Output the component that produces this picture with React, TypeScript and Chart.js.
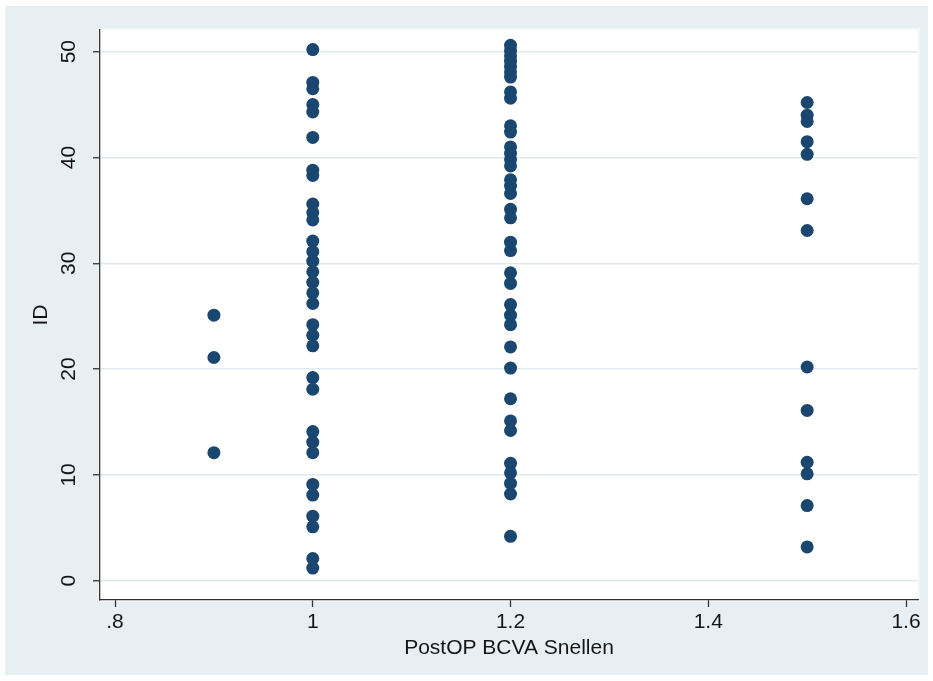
import React, { useEffect, useRef } from "react";
import { Chart, registerables } from "chart.js";

Chart.register(...registerables);

// Data (x = PostOP BCVA Snellen, y = ID)
const snellenValues = [0.9, 1.0, 1.2, 1.5];
const idsAt09 = [25.1, 21.1, 12.1];
const idsAt10 = [
  50.2, 47.1, 46.5, 45.0, 44.3, 41.9, 38.8, 38.3, 35.6, 34.8, 34.1, 32.1, 31.1,
  30.2, 29.2, 28.2, 27.2, 26.2, 24.2, 23.2, 22.2, 19.2, 18.1, 14.1, 13.1, 12.1,
  9.1, 8.1, 6.1, 5.1, 2.1, 1.2,
];
const idsAt12 = [
  50.6, 50.1, 49.6, 49.1, 48.6, 48.1, 47.6, 46.2, 45.6, 43.0, 42.4, 41.0, 40.4,
  39.8, 39.2, 37.9, 37.3, 36.6, 35.1, 34.3, 32.0, 31.2, 29.1, 28.1, 26.1, 25.1,
  24.2, 22.1, 20.1, 17.2, 15.1, 14.2, 11.1, 10.2, 9.2, 8.2, 4.2,
];
const idsAt15 = [45.2, 44.0, 43.4, 41.5, 40.3, 36.1, 33.1, 20.2, 16.1, 11.2, 10.1, 7.1, 3.2];

const xTickValues = [0.8, 1.0, 1.2, 1.4, 1.6];
const xTickLabels = [".8", "1", "1.2", "1.4", "1.6"];
const yTickValues = [0, 10, 20, 30, 40, 50];
const yTickLabels = ["0", "10", "20", "30", "40", "50"];
const xTitle = "PostOP BCVA Snellen";
const yTitle = "ID";

const idGroups = [idsAt09, idsAt10, idsAt12, idsAt15];

const FONT = "'Liberation Sans', Arial, Helvetica, sans-serif";
const TEXT = "#151515";

const bgPlugin = {
  id: "stataBg",
  beforeDraw(chart: any) {
    const { ctx, chartArea: a, width, height } = chart;
    ctx.save();
    ctx.fillStyle = "#ffffff";
    ctx.fillRect(0, 0, width, height);
    ctx.fillStyle = "#e8eff2";
    ctx.fillRect(5, 6, 923, 669);
    ctx.fillStyle = "#f4f7f9";
    ctx.fillRect(a.left - 2, a.top - 2, a.right - a.left + 4, a.bottom - a.top + 4);
    ctx.fillStyle = "#ffffff";
    ctx.fillRect(a.left, a.top, a.right - a.left, a.bottom - a.top);
    ctx.restore();
  },
};

export default function App() {
  const ref = useRef<HTMLCanvasElement | null>(null);

  useEffect(() => {
    document.body.style.margin = "0";
    const points: { x: number; y: number }[] = [];
    idGroups.forEach((ids, i) => {
      ids.forEach((id) => points.push({ x: snellenValues[i], y: id }));
    });

    const chart = new Chart(ref.current as HTMLCanvasElement, {
      type: "scatter",
      data: {
        datasets: [
          {
            data: points,
            backgroundColor: "#1a476f",
            borderColor: "#1a476f",
            borderWidth: 0,
            pointRadius: 6.5,
            pointHoverRadius: 6.5,
          },
        ],
      },
      options: {
        animation: false,
        responsive: true,
        maintainAspectRatio: false,
        layout: { padding: { top: 30, right: 15, left: 0, bottom: 0 } },
        plugins: { legend: { display: false }, tooltip: { enabled: false } },
        scales: {
          x: {
            type: "linear",
            min: 0.7848,
            max: 1.6121,
            afterBuildTicks: (s: any) => {
              s.ticks = xTickValues.map((v) => ({ value: v }));
            },
            afterFit: (s: any) => {
              s.height = 81;
            },
            ticks: {
              color: TEXT,
              font: { family: FONT, size: 21 },
              padding: 3,
              maxRotation: 0,
              minRotation: 0,
              callback: (_v: any, i: number) => xTickLabels[i],
            },
            grid: {
              drawOnChartArea: false,
              drawTicks: true,
              tickLength: 7,
              tickColor: "#333333",
              tickWidth: 1.3,
            },
            border: { display: true, color: "#333333", width: 1.3 },
            title: {
              display: true,
              text: xTitle,
              color: TEXT,
              font: { family: FONT, size: 21 },
              padding: { top: 0, bottom: 20 },
            },
          },
          y: {
            type: "linear",
            min: -1.82,
            max: 52.05,
            afterBuildTicks: (s: any) => {
              s.ticks = yTickValues.map((v) => ({ value: v }));
            },
            afterFit: (s: any) => {
              s.width = 100;
            },
            ticks: {
              color: TEXT,
              font: { family: FONT, size: 21 },
              padding: 12,
              minRotation: 90,
              maxRotation: 90,
              crossAlign: "center",
              callback: (_v: any, i: number) => yTickLabels[i],
            },
            grid: {
              color: "#e0e9ed",
              lineWidth: 1.5,
              drawTicks: true,
              tickLength: 7,
              tickColor: "#333333",
              tickWidth: 1.3,
            },
            border: { display: true, color: "#333333", width: 1.3 },
            title: {
              display: true,
              text: yTitle,
              color: TEXT,
              font: { family: FONT, size: 21 },
              padding: { top: 29, bottom: 0 },
            },
          },
        },
      },
      plugins: [bgPlugin],
    } as any);

    return () => chart.destroy();
  }, []);

  return (
    <div style={{ position: "relative", width: "933px", height: "681px" }}>
      <canvas ref={ref} />
    </div>
  );
}
